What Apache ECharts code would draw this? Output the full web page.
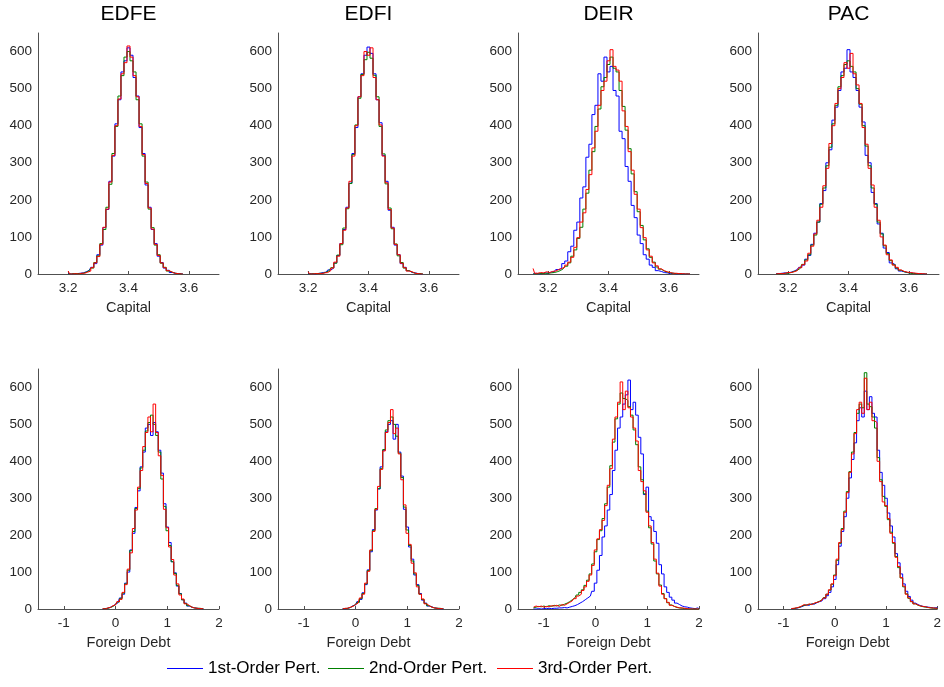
<!DOCTYPE html>
<html><head><meta charset="utf-8">
<script src="https://cdn.jsdelivr.net/npm/echarts@6/dist/echarts.min.js"></script>
<style>html,body{margin:0;padding:0;background:#fff}#c{width:944px;height:687px}</style>
</head><body><div id="c"></div>
<script>
const panelTitles = ['EDFE', 'EDFI', 'DEIR', 'PAC'];
const seriesNames = ['1st-Order Pert.', '2nd-Order Pert.', '3rd-Order Pert.'];
const seriesColors = ['#0000ff', '#008000', '#ff0000'];
const capitalBinStart = [3.20, 3.20, 3.15, 3.16];
const capitalBinWidth = 0.01;
const debtBinStart = [-0.25, -0.25, -1.20, -0.85];
const debtBinWidth = 0.05;
const capitalTicks = [3.2, 3.4, 3.6];
const debtTicks = [-1, 0, 1, 2];
const countTicks = [0, 100, 200, 300, 400, 500, 600];

// Capital histograms (counts per bin)
const edfeCapital1 = [1,0,1,1,2,3,6,10,18,28,52,78,125,174,250,318,405,470,545,575,610,590,530,480,395,325,240,180,120,82,48,31,16,10,4,2,1,1,0];
const edfeCapital2 = [0,0,1,1,1,2,5,9,16,31,49,82,120,180,242,325,398,480,535,585,600,575,545,470,405,318,248,175,125,78,52,29,18,8,5,2,1,0,0];
const edfeCapital3 = [8,0,1,0,2,2,5,8,17,30,47,80,126,175,248,320,400,472,540,570,615,585,535,478,398,322,244,178,121,80,50,30,17,9,5,2,1,0,0];
const edfiCapital1 = [0,1,0,1,2,4,5,11,16,30,50,82,120,180,245,325,395,478,540,590,612,595,540,470,408,320,250,172,126,78,52,28,18,9,4,3,1,0,0];
const edfiCapital2 = [0,0,1,1,2,2,5,9,17,29,51,79,124,176,244,322,402,474,538,578,598,582,536,478,398,324,243,178,122,81,49,31,16,9,5,2,1,1,0];
const edfiCapital3 = [6,0,1,1,1,3,4,9,16,32,48,82,118,178,250,318,400,478,535,600,590,610,530,470,402,318,246,174,124,80,52,29,17,8,6,2,1,0,0];
const deirCapital1 = [0,2,0,1,3,2,5,6,12,15,28,35,60,75,118,140,205,235,315,350,430,455,540,520,585,545,560,495,480,385,365,290,250,185,152,105,82,52,40,24,18,9,7,4,3,1,2,0,1,0,0,0,0];
const deirCapital2 = [0,0,1,1,2,2,3,4,6,9,14,21,30,48,65,96,126,175,218,280,330,398,445,505,530,565,585,555,545,495,452,388,338,270,222,168,131,92,68,45,32,19,13,8,5,3,2,1,1,0,0,0,0];
const deirCapital3 = [15,2,4,3,6,4,7,8,12,15,18,24,32,45,72,98,140,165,228,268,340,385,455,495,520,575,605,560,550,520,440,398,330,280,215,175,125,98,65,48,30,22,14,9,6,4,2,2,1,1,0,0,0];
const pacCapital1 = [1,1,2,3,3,5,8,12,18,24,40,50,80,110,140,190,225,300,335,415,450,495,545,555,605,545,530,495,450,410,320,300,220,190,135,110,70,58,30,25,14,8,6,4,3,2,1,1,0,0,0];
const pacCapital2 = [0,0,1,2,2,4,7,10,15,26,38,52,78,105,140,188,232,292,342,405,455,505,535,565,575,560,545,500,458,400,345,292,232,188,140,108,76,55,36,25,16,10,6,4,2,1,1,0,0,0,0];
const pacCapital3 = [0,1,1,2,4,4,6,9,17,25,35,56,75,108,145,180,238,285,352,400,460,500,530,570,555,595,540,510,460,395,350,285,240,180,145,100,78,52,38,24,18,11,7,5,4,3,2,1,1,0,0];

// Foreign debt histograms (counts per bin)
const edfeDebt1 = [0,1,2,5,8,13,17,30,40,70,100,160,205,275,320,385,425,490,500,470,505,480,430,368,285,222,180,128,98,62,42,25,16,8,5,3,2,1,1,0];
const edfeDebt2 = [0,1,2,4,7,12,19,28,43,68,105,158,210,272,326,382,430,482,505,525,500,470,425,352,278,212,172,128,96,64,41,25,15,9,5,3,2,2,1,0];
const edfeDebt3 = [1,0,3,4,9,11,20,26,45,66,108,152,218,268,330,375,440,478,520,480,555,478,415,362,270,220,168,134,92,68,38,27,14,10,5,3,2,1,1,0];
const edfiDebt1 = [1,0,2,4,9,11,20,26,44,66,106,155,215,268,325,385,430,480,500,510,460,500,425,360,270,222,168,135,92,66,42,24,16,8,6,3,2,1,0,1];
const edfiDebt2 = [0,1,2,4,8,12,18,28,42,68,104,158,212,272,326,380,432,485,510,520,500,468,422,356,276,214,172,130,95,64,40,26,15,9,5,3,2,2,1,0];
const edfiDebt3 = [0,2,2,5,7,12,16,30,40,70,102,160,210,270,332,378,428,478,505,540,475,490,420,350,282,205,175,124,98,60,40,27,14,9,5,3,2,1,1,0];
const deirDebt1 = [0,0,1,0,1,1,2,1,2,2,3,3,4,3,5,7,9,12,16,20,25,30,35,48,70,105,145,195,225,268,310,375,430,490,520,555,580,620,540,560,525,465,420,310,330,250,240,210,178,120,95,60,45,32,24,16,12,8,6,5,3,2,1,3,1];
const deirDebt2 = [3,5,7,6,8,6,9,7,10,8,11,10,13,16,20,25,30,38,45,52,64,78,95,122,155,188,212,245,285,330,388,452,515,555,585,570,565,548,525,485,445,385,350,312,265,220,176,130,95,65,42,28,17,11,7,4,3,2,1,1,0,0,0,0,0];
const deirDebt3 = [5,8,6,8,5,7,6,9,8,10,7,12,10,14,18,22,28,35,40,50,60,75,92,118,160,190,215,240,280,335,380,460,520,560,615,540,590,545,520,490,455,375,345,320,262,225,180,135,97,62,40,28,18,10,7,5,3,3,2,1,0,0,0,0,0];
const pacDebt1 = [0,1,2,4,6,9,11,10,14,13,17,20,22,28,36,45,60,80,120,170,210,250,300,355,405,450,510,545,520,590,540,575,530,520,430,370,335,300,260,225,195,150,125,95,68,48,34,24,16,12,9,7,6,5,4,3,3,4];
const pacDebt2 = [0,1,3,4,7,10,11,12,13,15,18,21,25,31,40,51,67,92,132,178,218,265,318,372,425,478,530,555,545,640,555,548,520,490,410,350,305,278,242,208,178,142,112,84,60,41,29,20,14,10,8,6,5,4,3,2,2,1];
const pacDebt3 = [1,2,3,5,8,12,10,14,12,16,18,20,24,30,40,52,68,90,135,180,215,262,315,370,420,475,540,560,530,625,540,560,510,505,400,345,290,280,245,205,180,140,115,85,62,40,30,20,14,11,8,7,6,4,3,3,2,2];

const capitalSets = [
  [edfeCapital1, edfeCapital2, edfeCapital3],
  [edfiCapital1, edfiCapital2, edfiCapital3],
  [deirCapital1, deirCapital2, deirCapital3],
  [pacCapital1, pacCapital2, pacCapital3]
];
const debtSets = [
  [edfeDebt1, edfeDebt2, edfeDebt3],
  [edfiDebt1, edfiDebt2, edfiDebt3],
  [deirDebt1, deirDebt2, deirDebt3],
  [pacDebt1, pacDebt2, pacDebt3]
];

const FONT = '"Liberation Sans", Arial, Helvetica, sans-serif';
const AXIS_COLOR = '#505050';
const TEXT_COLOR = '#262626';
const panelLeft = [38, 278, 518, 758];
const panelWidth = 181;
const rowTop = [33, 369];
const rowHeight = [241, 240];

const grids = [], xAxes = [], yAxes = [], series = [], graphics = [];

function addPanel(row, col, sets, start, width, xmin, xmax, ticks, name, fmt) {
  const idx = grids.length;
  grids.push({left: panelLeft[col], top: rowTop[row], width: panelWidth, height: rowHeight[row], containLabel: false});
  xAxes.push({
    gridIndex: idx, type: 'value', min: xmin, max: xmax,
    axisLine: {show: true, onZero: false, lineStyle: {color: AXIS_COLOR, width: 1}},
    axisTick: {show: true, inside: true, length: 3, customValues: ticks, lineStyle: {color: AXIS_COLOR}},
    axisLabel: {customValues: ticks, fontSize: 13.5, color: TEXT_COLOR, fontFamily: FONT, margin: 7, formatter: fmt},
    splitLine: {show: false},
    name: name, nameLocation: 'middle', nameGap: 26,
    nameTextStyle: {fontSize: 14.5, color: TEXT_COLOR, fontFamily: FONT}
  });
  yAxes.push({
    gridIndex: idx, type: 'value', min: 0, max: 650,
    axisLine: {show: true, onZero: false, lineStyle: {color: AXIS_COLOR, width: 1}},
    axisTick: {show: false},
    axisLabel: {customValues: countTicks, fontSize: 13.5, color: TEXT_COLOR, fontFamily: FONT, margin: 6},
    splitLine: {show: false}
  });
  sets.forEach((vals, s) => {
    series.push({
      type: 'line', name: seriesNames[s], xAxisIndex: idx, yAxisIndex: idx,
      data: vals.map((v, i) => [+(start + i * width).toFixed(3), v]),
      step: 'middle', symbol: 'none', showSymbol: false, silent: true,
      lineStyle: {width: 1, color: seriesColors[s]}, itemStyle: {color: seriesColors[s]},
      z: 2 + s
    });
  });
}

for (let c = 0; c < 4; c++) {
  addPanel(0, c, capitalSets[c], capitalBinStart[c], capitalBinWidth, 3.1, 3.7, capitalTicks, 'Capital', v => v.toFixed(1));
  graphics.push({type: 'text', x: panelLeft[c] + panelWidth / 2, y: 14,
    style: {text: panelTitles[c], fill: '#000', font: 'normal 21px ' + FONT, align: 'center', verticalAlign: 'middle'}});
}
for (let c = 0; c < 4; c++) {
  addPanel(1, c, debtSets[c], debtBinStart[c], debtBinWidth, -1.5, 2, debtTicks, 'Foreign Debt', v => String(v));
}

// Legend (sample line + label for each series)
const legendLineX = [167, 328, 497];
const legendY = 668.5;
seriesNames.forEach((n, i) => {
  graphics.push({type: 'line', silent: true,
    shape: {x1: legendLineX[i], y1: legendY, x2: legendLineX[i] + 36, y2: legendY},
    style: {stroke: seriesColors[i], lineWidth: 1}});
  graphics.push({type: 'text', silent: true, x: legendLineX[i] + 41, y: legendY,
    style: {text: n, fill: '#000', font: 'normal 17px ' + FONT, align: 'left', verticalAlign: 'middle'}});
});

const chart = echarts.init(document.getElementById('c'), null, {renderer: 'canvas'});
chart.setOption({
  animation: false,
  backgroundColor: '#fff',
  grid: grids, xAxis: xAxes, yAxis: yAxes, series: series,
  graphic: graphics
});
</script></body></html>
